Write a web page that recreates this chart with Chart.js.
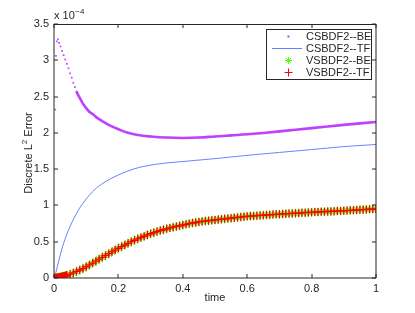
<!DOCTYPE html>
<html>
<head>
<meta charset="utf-8">
<script src="https://cdn.jsdelivr.net/npm/chart.js@4.4.1/dist/chart.umd.min.js"></script>
<style>
  html, body { margin: 0; padding: 0; background: #fff; }
</style>
</head>
<body>
<canvas id="errChart" width="415" height="313"></canvas>
<script>
// values are in units of 1e-4
const xTicks = [0, 0.2, 0.4, 0.6, 0.8, 1];
const yTicks = [0, 0.5, 1, 1.5, 2, 2.5, 3, 3.5];

const csBeTime = [0.004, 0.006, 0.009, 0.012, 0.016, 0.02, 0.025, 0.03, 0.035, 0.04, 0.045, 0.05, 0.055, 0.06, 0.065, 0.07,
    0.075, 0.08, 0.085, 0.09, 0.1, 0.11, 0.12, 0.13, 0.14, 0.15, 0.17, 0.2, 0.23, 0.26, 0.3, 0.35, 0.4, 0.45, 0.5, 0.55,
    0.6, 0.7, 0.8, 0.9, 1.0];
const csBeErr = [2.32, 3.06, 3.26, 3.29, 3.24, 3.19, 3.13, 3.07, 3.01, 2.95, 2.89, 2.82, 2.76, 2.69, 2.63, 2.57,
    2.52, 2.48, 2.44, 2.40, 2.34, 2.29, 2.26, 2.22, 2.19, 2.16, 2.11, 2.05, 2.00, 1.97, 1.95, 1.935, 1.93, 1.935, 1.95, 1.965,
    1.98, 2.02, 2.065, 2.11, 2.15];

const csTfTime = [0, 0.006, 0.015, 0.03, 0.05, 0.07, 0.09, 0.12, 0.15, 0.2, 0.25, 0.3, 0.35, 0.4, 0.45, 0.5, 0.6, 0.7, 0.8, 0.9, 1.0];
const csTfErr = [0, 0.08, 0.24, 0.48, 0.71, 0.89, 1.03, 1.19, 1.30, 1.42, 1.505, 1.555, 1.585, 1.605, 1.625, 1.645, 1.69, 1.73, 1.77, 1.81, 1.84];

const vsTime = [0, 0.002, 0.004, 0.006, 0.008, 0.01, 0.012, 0.014, 0.016, 0.018, 0.02, 0.022, 0.024, 0.026, 0.028, 0.03,
    0.032, 0.034, 0.036, 0.038, 0.04, 0.05, 0.06, 0.07, 0.08, 0.09, 0.1, 0.11, 0.12, 0.13, 0.14, 0.15, 0.16, 0.17, 0.18, 0.19,
    0.2, 0.21, 0.22, 0.23, 0.24, 0.25, 0.26, 0.27, 0.28, 0.29, 0.3, 0.31, 0.32, 0.33, 0.34, 0.35, 0.36, 0.37, 0.38, 0.39,
    0.4, 0.41, 0.42, 0.43, 0.44, 0.45, 0.46, 0.47, 0.48, 0.49, 0.5, 0.51, 0.52, 0.53, 0.54, 0.55, 0.56, 0.57, 0.58, 0.59,
    0.6, 0.61, 0.62, 0.63, 0.64, 0.65, 0.66, 0.67, 0.68, 0.69, 0.7, 0.71, 0.72, 0.73, 0.74, 0.75, 0.76, 0.77, 0.78, 0.79,
    0.8, 0.81, 0.82, 0.83, 0.84, 0.85, 0.86, 0.87, 0.88, 0.89, 0.9, 0.91, 0.92, 0.93, 0.94, 0.95, 0.96, 0.97, 0.98, 0.99, 1.0];
const vsErr = [0, 0.001, 0.002, 0.003, 0.004, 0.005, 0.007, 0.008, 0.01, 0.011, 0.013, 0.015, 0.017, 0.019, 0.021, 0.024,
    0.026, 0.028, 0.031, 0.034, 0.037, 0.053, 0.07, 0.09, 0.11, 0.13, 0.155, 0.18, 0.205, 0.232, 0.26, 0.285, 0.31, 0.335, 0.36, 0.385,
    0.41, 0.433, 0.455, 0.478, 0.5, 0.52, 0.54, 0.558, 0.575, 0.593, 0.61, 0.625, 0.64, 0.653, 0.665, 0.678, 0.69, 0.7, 0.71, 0.72,
    0.73, 0.74, 0.75, 0.758, 0.765, 0.773, 0.78, 0.785, 0.79, 0.795, 0.8, 0.805, 0.81, 0.815, 0.82, 0.825, 0.83, 0.835, 0.84, 0.845,
    0.85, 0.853, 0.856, 0.859, 0.862, 0.865, 0.868, 0.871, 0.874, 0.877, 0.88, 0.883, 0.885, 0.888, 0.89, 0.893, 0.895, 0.898, 0.9, 0.903,
    0.905, 0.908, 0.91, 0.912, 0.914, 0.916, 0.918, 0.92, 0.922, 0.924, 0.926, 0.929, 0.932, 0.935, 0.937, 0.94, 0.942, 0.945, 0.947, 0.95, 0.952];

const seriesNames = ['CSBDF2--BE', 'CSBDF2--TF', 'VSBDF2--BE', 'VSBDF2--TF'];

const colors = {
    purple: '#bf40ff',
    blue: '#6680ff',
    green: '#55ff11',
    red: '#ff0000',
    text: '#262626',
    axis: '#262626'
};

const FONT = "'Liberation Sans', Arial, sans-serif";

function pts(xs, ys) {
    return xs.map((x, i) => ({ x: x, y: ys[i] }));
}

// frame, inward ticks, exponent, axis titles and legend box
const matlabAxes = {
    id: 'matlabAxes',
    afterDraw(chart) {
        const ctx = chart.ctx;
        const xs = chart.scales.x, ys = chart.scales.y;
        ctx.save();
        ctx.strokeStyle = colors.axis;
        ctx.lineWidth = 1;
        ctx.beginPath();
        ctx.moveTo(54, 24.5); ctx.lineTo(376, 24.5);
        ctx.moveTo(54, 24); ctx.lineTo(54, 278);
        ctx.moveTo(54, 278); ctx.lineTo(376, 278);
        ctx.moveTo(376, 24); ctx.lineTo(376, 278);
        xTicks.forEach(v => {
            const px = Math.round(xs.getPixelForValue(v));
            ctx.moveTo(px, 278); ctx.lineTo(px, 274);
            ctx.moveTo(px, 24); ctx.lineTo(px, 28);
        });
        yTicks.forEach(v => {
            const py = Math.round(ys.getPixelForValue(v));
            ctx.moveTo(54, py); ctx.lineTo(58, py);
            ctx.moveTo(376, py); ctx.lineTo(372, py);
        });
        ctx.stroke();

        ctx.fillStyle = colors.text;
        ctx.textBaseline = 'middle';
        ctx.textAlign = 'left';
        // exponent label
        ctx.font = '11px ' + FONT;
        ctx.fillText('x 10', 54, 16);
        let w = ctx.measureText('x 10').width;
        ctx.font = '8px ' + FONT;
        ctx.fillText('\u22124', 54 + w + 0.5, 11.5);

        // x title
        ctx.font = '11px ' + FONT;
        ctx.textAlign = 'center';
        ctx.fillText('time', 215, 298);

        // y title with superscript
        ctx.save();
        ctx.translate(29, 153);
        ctx.rotate(-Math.PI / 2);
        const p1 = 'Discrete L', p2 = '2', p3 = ' Error';
        ctx.font = '11px ' + FONT;
        const w1 = ctx.measureText(p1).width, w3 = ctx.measureText(p3).width;
        ctx.font = '8px ' + FONT;
        const w2 = ctx.measureText(p2).width;
        let x0 = -(w1 + w2 + w3) / 2;
        ctx.textAlign = 'left';
        ctx.font = '11px ' + FONT;
        ctx.fillText(p1, x0, 0);
        ctx.font = '8px ' + FONT;
        ctx.fillText(p2, x0 + w1, -4);
        ctx.font = '11px ' + FONT;
        ctx.fillText(p3, x0 + w1 + w2, 0);
        ctx.restore();

        // legend
        ctx.fillStyle = '#fff';
        ctx.fillRect(266, 29, 106, 50);
        ctx.strokeStyle = colors.axis;
        ctx.strokeRect(266.5, 29.5, 105, 50);
        const rows = [36.5, 48.5, 60.5, 72.5];
        const mx = 288.5;
        // purple dot
        ctx.fillStyle = colors.purple;
        ctx.fillRect(mx - 1, rows[0] - 1, 2, 2);
        // blue line
        ctx.strokeStyle = colors.blue;
        ctx.beginPath(); ctx.moveTo(272, rows[1]); ctx.lineTo(302, rows[1]); ctx.stroke();
        // green star
        ctx.strokeStyle = colors.green;
        ctx.beginPath();
        for (let k = 0; k < 4; k++) {
            const ang = k * Math.PI / 4;
            ctx.moveTo(mx - 3.5 * Math.cos(ang), rows[2] - 3.5 * Math.sin(ang));
            ctx.lineTo(mx + 3.5 * Math.cos(ang), rows[2] + 3.5 * Math.sin(ang));
        }
        ctx.stroke();
        // red cross
        ctx.strokeStyle = colors.red;
        ctx.beginPath();
        ctx.moveTo(mx - 4, rows[3]); ctx.lineTo(mx + 4, rows[3]);
        ctx.moveTo(mx, rows[3] - 4); ctx.lineTo(mx, rows[3] + 4);
        ctx.stroke();

        ctx.fillStyle = colors.text;
        ctx.font = '11px ' + FONT;
        ctx.textAlign = 'left';
        seriesNames.forEach((n, i) => ctx.fillText(n, 306, rows[i]));
        ctx.restore();
    }
};

new Chart(document.getElementById('errChart'), {
    type: 'scatter',
    data: {
        datasets: [
            {
                label: seriesNames[3],
                data: pts(vsTime, vsErr),
                showLine: false,
                pointStyle: 'cross',
                pointRadius: 4,
                borderColor: colors.red,
                backgroundColor: colors.red,
                pointBorderWidth: 1.3,
                order: 0
            },
            {
                label: seriesNames[2],
                data: pts(vsTime, vsErr),
                showLine: false,
                pointStyle: 'star',
                pointRadius: 4.5,
                borderColor: colors.green,
                backgroundColor: colors.green,
                pointBorderWidth: 1,
                order: 1
            },
            {
                label: seriesNames[0],
                data: pts(csBeTime, csBeErr),
                showLine: true,
                borderColor: colors.purple,
                backgroundColor: colors.purple,
                borderWidth: 2.6,
                pointStyle: 'rect',
                pointRadius: 1.2,
                pointBorderWidth: 0,
                tension: 0.4,
                segment: {
                    borderColor: c => c.p0.parsed.x < 0.07 ? 'rgba(0,0,0,0)' : colors.purple
                },
                order: 2
            },
            {
                label: seriesNames[1],
                data: pts(csTfTime, csTfErr),
                showLine: true,
                borderColor: colors.blue,
                borderWidth: 1,
                pointRadius: 0,
                tension: 0.4,
                order: 3
            }
        ]
    },
    options: {
        responsive: false,
        animation: false,
        devicePixelRatio: 1,
        layout: { padding: { top: 24, right: 39, left: 0, bottom: 0 } },
        plugins: {
            legend: { display: false },
            tooltip: { enabled: false }
        },
        scales: {
            x: {
                type: 'linear',
                min: 0,
                max: 1,
                afterFit: s => { s.height = 35; },
                afterBuildTicks: s => { s.ticks = xTicks.map(v => ({ value: v })); },
                grid: { display: false, drawTicks: false },
                border: { display: false },
                ticks: {
                    padding: 4,
                    color: colors.text,
                    font: { family: FONT, size: 11 },
                    maxRotation: 0,
                    callback: v => String(v)
                }
            },
            y: {
                type: 'linear',
                min: 0,
                max: 3.5,
                afterFit: s => { s.width = 54; },
                afterBuildTicks: s => { s.ticks = yTicks.map(v => ({ value: v })); },
                grid: { display: false, drawTicks: false },
                border: { display: false },
                ticks: {
                    padding: 5,
                    color: colors.text,
                    font: { family: FONT, size: 11 },
                    callback: v => String(v)
                }
            }
        }
    },
    plugins: [matlabAxes]
});
</script>
</body>
</html>
